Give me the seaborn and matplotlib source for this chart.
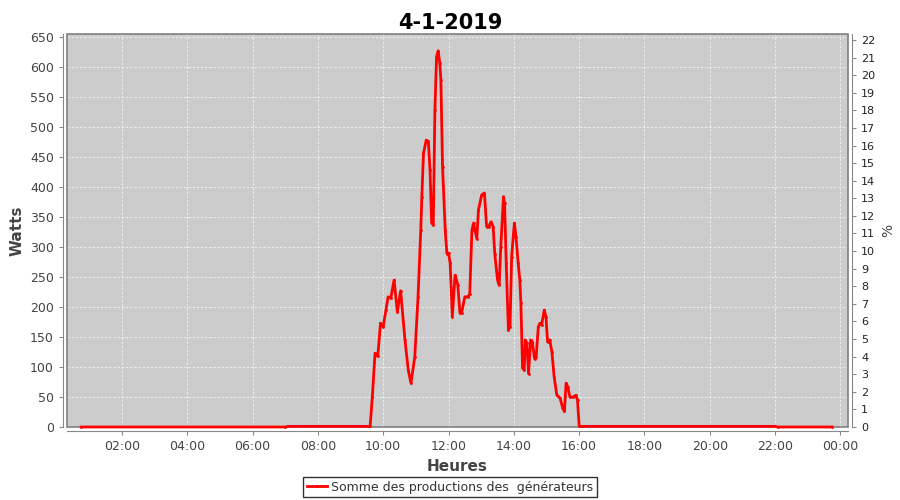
import matplotlib
matplotlib.use("Agg")
import matplotlib.pyplot as plt
import matplotlib.dates as mdates
import matplotlib.patches as mpatches
import seaborn as sns
import pandas as pd

# production (time of day, watts)
times = ["00:45", "07:00", "07:05", "09:30", "09:36", "09:40", "09:45", "09:50",
         "09:55", "10:00", "10:05", "10:09", "10:14", "10:20", "10:26", "10:32",
         "10:40", "10:46", "10:51", "10:58", "11:04", "11:09", "11:11", "11:14",
         "11:19", "11:23", "11:26", "11:29", "11:32", "11:35", "11:38", "11:41",
         "11:44", "11:46", "11:49", "11:54", "11:57", "12:00", "12:03", "12:07",
         "12:12", "12:17", "12:21", "12:24", "12:30", "12:36", "12:39", "12:43",
         "12:46", "12:52", "12:55", "13:01", "13:06", "13:10", "13:14", "13:18",
         "13:22", "13:25", "13:30", "13:33", "13:36", "13:41", "13:43", "13:46",
         "13:50", "13:53", "13:56", "14:01", "14:04", "14:08", "14:11", "14:13",
         "14:16", "14:19", "14:21", "14:24", "14:27", "14:31", "14:34", "14:38",
         "14:41", "14:45", "14:48", "14:51", "14:56", "14:59", "15:02", "15:06",
         "15:10", "15:14", "15:19", "15:25", "15:30", "15:33", "15:36", "15:39",
         "15:43", "15:49", "15:54", "15:57", "16:00", "16:03", "22:00", "22:05",
         "23:45"]
watts = [0, 0, 1, 1, 1, 50, 123, 118, 173, 167, 195, 217, 215, 245, 192, 227,
         145, 95, 73, 117, 217, 328, 384, 456, 478, 476, 428, 340, 337, 528,
         617, 627, 606, 578, 434, 328, 289, 290, 273, 184, 253, 237, 190, 190,
         217, 217, 222, 328, 340, 314, 362, 387, 390, 334, 334, 342, 334, 289,
         245, 237, 300, 384, 373, 273, 162, 167, 284, 340, 317, 273, 245, 206,
         98, 95, 145, 140, 89, 145, 142, 114, 117, 167, 173, 170, 195, 184,
         142, 145, 125, 84, 53, 48, 31, 26, 73, 67, 50, 50, 53, 45, 2, 1, 1,
         0, 0]

df = pd.DataFrame({"time": pd.to_datetime(["2019-01-04 " + t for t in times]),
                   "watts": watts})

fig = plt.figure(figsize=(9, 5), dpi=100)
ax = fig.add_axes([67 / 900, 1 - 427 / 500, (848 - 67) / 900, (427 - 34) / 500])
ax.set_facecolor("#cccccc")

sns.lineplot(data=df, x="time", y="watts", ax=ax, color="red", linewidth=2,
             marker="o", markersize=2, markeredgewidth=0, zorder=6, clip_on=False,
             label="Somme des productions des  générateurs", legend=False)

ax.set_xlim(pd.Timestamp("2019-01-04 00:19"), pd.Timestamp("2019-01-05 00:14"))
ax.set_ylim(0, 655)
ax.set_yticks(range(0, 651, 50))
ax.xaxis.set_major_locator(mdates.HourLocator(byhour=range(0, 24, 2)))
ax.xaxis.set_major_formatter(mdates.DateFormatter("%H:%M"))
ax.grid(True, color="#f2f2f2", linestyle=(0, (3, 2)), linewidth=0.6)
ax.set_axisbelow(True)

for s in ["top", "right"]:
    ax.spines[s].set_visible(False)
for s in ["left", "bottom"]:
    ax.spines[s].set_position(("outward", 3))
    ax.spines[s].set_color("#888888")
ax.tick_params(colors="#444444", labelsize=9, length=3, width=0.8)
ax.tick_params(axis="both", color="#888888")
ax.set_xlabel("Heures", fontsize=11, fontweight="bold", color="#444444")
ax.set_ylabel("Watts", fontsize=11, fontweight="bold", color="#444444")

# plot outline
ax.add_patch(mpatches.Rectangle((0, 0), 1, 1, transform=ax.transAxes, fill=False,
                                edgecolor="#808080", linewidth=1.2, clip_on=False,
                                zorder=5))

ax2 = ax.twinx()
ax2.set_ylim(0, 22.34)
ax2.set_yticks(range(0, 23))
for s in ["top", "left", "bottom"]:
    ax2.spines[s].set_visible(False)
ax2.spines["right"].set_position(("outward", 3))
ax2.spines["right"].set_color("#888888")
ax2.tick_params(labelsize=8, length=3, color="#888888", labelcolor="#222222")
ax2.set_ylabel("%", fontsize=10, color="#444444")

handles, labels = ax.get_legend_handles_labels()
leg = fig.legend(handles, labels, loc="center", bbox_to_anchor=(0.5, 1 - 487 / 500),
                 frameon=True, fancybox=False, fontsize=9, handlelength=1.6,
                 borderpad=0.3, handletextpad=0.3)
leg.get_frame().set_edgecolor("black")
leg.get_frame().set_linewidth(1)
for t in leg.get_texts():
    t.set_color("#333333")

fig.suptitle("4-1-2019", fontsize=15, fontweight="bold", y=1 - 13 / 500)
fig.savefig("out.png", dpi=100)
